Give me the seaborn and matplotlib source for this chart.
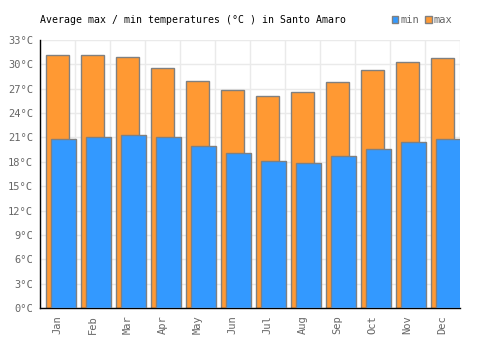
import matplotlib
matplotlib.use("Agg")
import matplotlib.pyplot as plt
from matplotlib.patches import Patch
from matplotlib.ticker import MultipleLocator, FixedLocator
import pandas as pd
import seaborn as sns

months = ["Jan", "Feb", "Mar", "Apr", "May", "Jun", "Jul", "Aug", "Sep", "Oct", "Nov", "Dec"]
max_temp = [31.2, 31.1, 30.9, 29.5, 28.0, 26.8, 26.1, 26.6, 27.8, 29.3, 30.3, 30.8]
min_temp = [20.8, 21.0, 21.3, 21.0, 20.0, 19.1, 18.1, 17.9, 18.7, 19.6, 20.4, 20.8]

df = pd.DataFrame({"month": months, "max": max_temp, "min": min_temp})

sns.set_theme(style="white")
plt.rcParams["font.family"] = ["DejaVu Sans Mono"]

blue = "#3399ff"
orange = "#ff9933"
edge = "#808080"

fig = plt.figure(figsize=(5, 3.5), dpi=100)
ax = fig.add_axes([0.08, 0.12, 0.84, 0.7657])

sns.barplot(data=df, x="month", y="max", color=orange, width=0.67,
            edgecolor=edge, linewidth=1.0, saturation=1, ax=ax, zorder=2)
n_max = len(ax.patches)
sns.barplot(data=df, x="month", y="min", color=blue, width=0.7,
            edgecolor=edge, linewidth=1.0, saturation=1, ax=ax, zorder=3)
# shift the min bars to the right so they overlap the max bars
for p in ax.patches[n_max:]:
    p.set_x(p.get_x() + 0.17)

ax.set_xlim(-0.5, 11.5)
ax.set_ylim(0, 33)
ax.yaxis.set_major_locator(MultipleLocator(3))
ax.set_yticklabels([f"{int(v)}°C" for v in ax.get_yticks()])
ax.xaxis.set_minor_locator(FixedLocator([i + 0.5 for i in range(-1, 12)]))
ax.grid(True, which="major", axis="y", color="#eaeaea", linewidth=1, zorder=0)
ax.grid(True, which="minor", axis="x", color="#eaeaea", linewidth=1, zorder=0)
ax.grid(False, which="major", axis="x")
ax.set_axisbelow(True)

ax.tick_params(axis="both", which="both", length=0, labelsize=7.5, colors="#666666", pad=5)
ax.tick_params(axis="x", labelrotation=90)
ax.set_xlabel("")
ax.set_ylabel("")

for s in ["top", "right"]:
    ax.spines[s].set_visible(False)
ax.spines["left"].set_color("black")
ax.spines["bottom"].set_color("black")
ax.spines["left"].set_linewidth(1)
ax.spines["bottom"].set_linewidth(1)

fig.text(0.08, 0.943, "Average max / min temperatures (°C ) in Santo Amaro",
         fontsize=7.1, color="black", va="center", ha="left")

handles = [Patch(facecolor=blue, edgecolor=edge, label="min"),
           Patch(facecolor=orange, edgecolor=edge, label="max")]
leg = fig.legend(handles=handles, loc="center right", bbox_to_anchor=(0.905, 0.943),
                 ncol=2, frameon=False, fontsize=7.5, handlelength=0.6,
                 handleheight=0.6, handletextpad=0.2, columnspacing=0.6,
                 borderaxespad=0, borderpad=0)
for t in leg.get_texts():
    t.set_color("#666666")

fig.savefig("out.png", dpi=100)
